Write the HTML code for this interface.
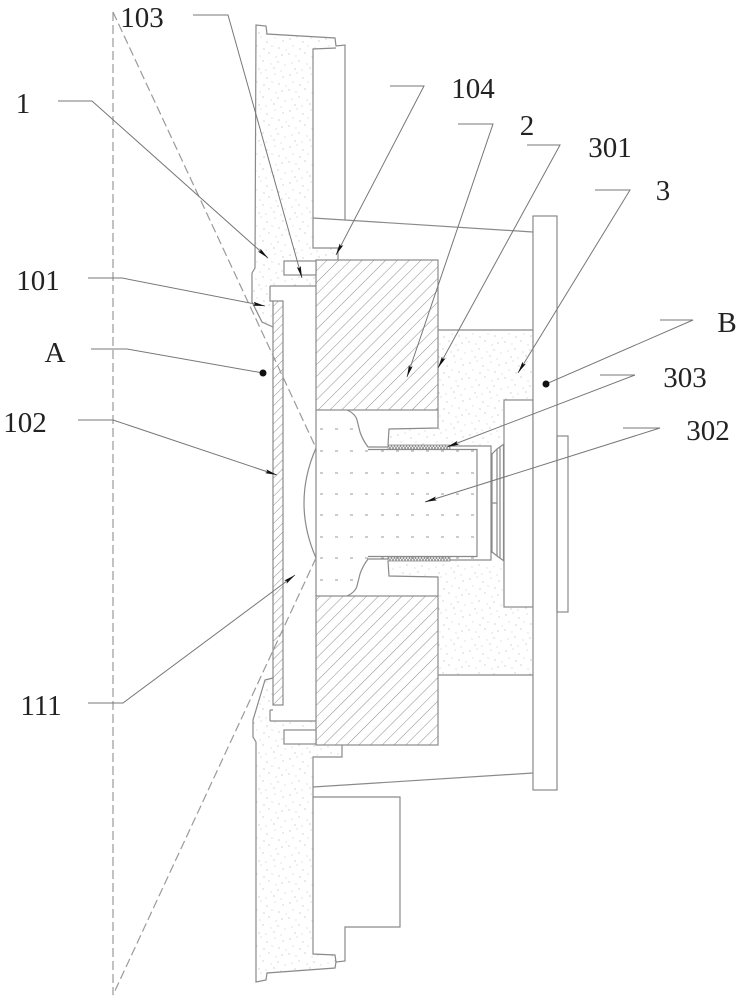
<!DOCTYPE html>
<html><head><meta charset="utf-8"><style>
html,body{margin:0;padding:0;background:#fff;}
svg{display:block;}
text{font-family:"Liberation Serif",serif;font-size:29px;fill:#222;}
</style></head><body>
<svg width="741" height="1000" viewBox="0 0 741 1000" xmlns="http://www.w3.org/2000/svg">
<defs>
<pattern id="stip" width="36" height="36" patternUnits="userSpaceOnUse">
<g fill="#b4b4b4">
<circle cx="2" cy="3" r="0.6"/><circle cx="9" cy="1" r="0.5"/><circle cx="15" cy="6" r="0.6"/><circle cx="23" cy="2" r="0.5"/><circle cx="31" cy="5" r="0.6"/>
<circle cx="5" cy="10" r="0.5"/><circle cx="12" cy="13" r="0.6"/><circle cx="20" cy="10" r="0.5"/><circle cx="27" cy="12" r="0.6"/><circle cx="34" cy="14" r="0.5"/>
<circle cx="1" cy="18" r="0.6"/><circle cx="8" cy="20" r="0.5"/><circle cx="17" cy="17" r="0.6"/><circle cx="24" cy="21" r="0.5"/><circle cx="30" cy="19" r="0.6"/>
<circle cx="4" cy="27" r="0.5"/><circle cx="11" cy="25" r="0.6"/><circle cx="19" cy="28" r="0.5"/><circle cx="26" cy="26" r="0.6"/><circle cx="33" cy="29" r="0.5"/>
<circle cx="7" cy="33" r="0.6"/><circle cx="14" cy="34" r="0.5"/><circle cx="22" cy="32" r="0.6"/><circle cx="29" cy="35" r="0.5"/>
</g>
</pattern>
<pattern id="hatch" width="8.3" height="8.3" patternUnits="userSpaceOnUse" patternTransform="rotate(45)">
<line x1="0" y1="0" x2="0" y2="8.3" stroke="#8c8c8c" stroke-width="1"/>
</pattern>
<pattern id="hatch2" width="6.4" height="6.4" patternUnits="userSpaceOnUse" patternTransform="rotate(45)">
<line x1="0" y1="0" x2="0" y2="6.4" stroke="#8c8c8c" stroke-width="1"/>
</pattern>
<pattern id="thread" width="3" height="4" patternUnits="userSpaceOnUse">
<rect width="3" height="4" fill="#fff"/>
<line x1="0" y1="0" x2="3" y2="4" stroke="#888" stroke-width="0.8"/>
<line x1="3" y1="0" x2="0" y2="4" stroke="#888" stroke-width="0.8"/>
</pattern>
<marker id="arr" viewBox="0 0 12 4" refX="12" refY="2" markerWidth="12" markerHeight="4" markerUnits="userSpaceOnUse" orient="auto">
<path d="M0,0 L12,2 L0,4 L2,2 z" fill="#111"/>
</marker>
</defs>

<!-- stippled housing -->
<polygon fill="url(#stip)" points="256,25 266,26 267,34 335,38 336,48 313,49 313,248 338,248 338,260 316,260 316,286 270,286 270,301 273,301 273,327 262,322 252,302 252,273 255,268"/>
<polygon fill="url(#stip)" points="273,678 265,680 253,720 253,737 256,742 256,982 266,980 267,973 335,968 336,962 335,955 313,954 313,757 342,757 342,745 316,745 316,721 270,721 270,710 273,710"/>
<!-- stippled 301 region -->
<polygon fill="url(#stip)" points="438,330 533,330 533,675 438,675 438,596 438,577 389,576 388,561 491,561 491,445 388,445 389,429 438,428"/>
<rect x="491" y="440" width="13" height="126" fill="#fff"/>
<rect x="504" y="400" width="29" height="207" fill="#fff"/>

<!-- hatched blocks -->
<rect x="316" y="260" width="122" height="150" fill="url(#hatch)" stroke="#8a8a8a" stroke-width="1.2"/>
<rect x="316" y="596" width="122" height="149" fill="url(#hatch)" stroke="#8a8a8a" stroke-width="1.2"/>
<!-- glass -->
<rect x="273" y="301" width="10" height="404" fill="url(#hatch2)" stroke="#8a8a8a" stroke-width="1.2"/>

<!-- bars -->
<rect x="284" y="261" width="32" height="14" fill="#fff" stroke="#8a8a8a" stroke-width="1.2"/>
<rect x="284" y="730" width="32" height="14" fill="#fff" stroke="#8a8a8a" stroke-width="1.2"/>

<!-- thread bands -->
<rect x="388" y="445" width="62" height="4.5" fill="url(#thread)" stroke="#8a8a8a" stroke-width="0.8"/>
<rect x="388" y="556.5" width="62" height="4.5" fill="url(#thread)" stroke="#8a8a8a" stroke-width="0.8"/>

<g fill="none" stroke="#8a8a8a" stroke-width="1.2">
<!-- housing outlines -->
<path d="M345,220 L345,45 L336,46 L335,38 L267,34 L266,26 L256,25 L255,268 L252,273 L252,302 L262,322 L273,327"/>
<path d="M336,48 L313,49 L313,248 L338,248 L338,260"/>
<path d="M270,286 L316,286 M270,286 L270,301 L273,301"/>
<path d="M273,678 L265,680 L253,720 L253,737 L256,742 L256,982 L266,980 L267,973 L335,968 L336,962 L345,961 L345,927 L400,927 L400,797 L313,797"/>
<path d="M342,745 L342,757 L313,757 L313,954 L335,955 L336,962"/>
<path d="M270,721 L316,721 M270,710 L270,721 M270,710 L273,710"/>
<!-- holder left edge -->
<path d="M316,410 L316,596"/>
<!-- slanted lines -->
<path d="M313,218 L533,232"/>
<path d="M313,787 L533,773"/>
<!-- 301 region outline -->
<path d="M438,330 L533,330 M438,675 L533,675"/>
<path d="M438,410 L438,428 L389,429 L388,445"/>
<path d="M438,596 L438,577 L389,576 L388,561"/>
<!-- holder contour -->
<path d="M347,410 C352,412 356,416 357,420 L360,432 C362,438 365,443 368,447 L388,447"/>
<path d="M347,596 C352,594 356,590 357,586 L360,574 C362,568 365,563 368,559 L388,559"/>
<!-- barrel -->
<path d="M450,446 L491,446 L491,560 L450,560"/>
<path d="M368,449.5 L477,449.5 L477,556.5 L368,556.5"/>
<!-- lens front -->
<path d="M316,448 Q292,503 316,558"/>
<!-- filter -->
<path d="M492,453 L492,553 M497,449 L497,556 M500,447 L500,558 M503.5,445 L503.5,560"/>
<path d="M491,455 L497,449 L504,444 M491,551 L497,556 L504,561 M491,503 L497,503"/>
<!-- sensor, pcb, component -->
<rect x="504" y="400" width="29" height="207"/>
<rect x="533" y="216" width="24" height="574" fill="#fff"/>
<rect x="557" y="436" width="11" height="176"/>
</g>

<!-- grid dots in lens -->
<g fill="#999">
<rect x="320" y="428.5" width="3" height="1"/><rect x="335" y="428.5" width="3" height="1"/><rect x="350" y="428.5" width="3" height="1"/>
<rect x="320" y="579.5" width="3" height="1"/><rect x="335" y="579.5" width="3" height="1"/><rect x="350" y="579.5" width="3" height="1"/>
</g>
<g fill="#999" id="row">
<rect x="320" y="450.5" width="3" height="1"/><rect x="335" y="450.5" width="3" height="1"/><rect x="350" y="450.5" width="3" height="1"/><rect x="365" y="450.5" width="3" height="1"/><rect x="381" y="450.5" width="3" height="1"/><rect x="396" y="450.5" width="3" height="1"/><rect x="411" y="450.5" width="3" height="1"/><rect x="426" y="450.5" width="3" height="1"/><rect x="441" y="450.5" width="3" height="1"/><rect x="456" y="450.5" width="3" height="1"/><rect x="471" y="450.5" width="3" height="1"/>
</g>
<use href="#row" y="22"/>
<use href="#row" y="43"/>
<use href="#row" y="64"/>
<use href="#row" y="86"/>
<use href="#row" y="107"/>

<!-- dashed construction lines -->
<g fill="none" stroke="#9a9a9a" stroke-width="1.2" stroke-dasharray="9,4">
<path d="M113,12 L113,995"/>
<path d="M113,12 L316,448"/>
<path d="M316,558 L113,995"/>
</g>

<!-- leader lines -->
<g fill="none" stroke="#777" stroke-width="1">
<polyline points="193,15 228,15 302,278" marker-end="url(#arr)"/>
<polyline points="58,101 92,101 268,258" marker-end="url(#arr)"/>
<polyline points="390,86 424,86 336,255" marker-end="url(#arr)"/>
<polyline points="458,124 493,124 407,377" marker-end="url(#arr)"/>
<polyline points="527,145 560,145 438,368" marker-end="url(#arr)"/>
<polyline points="595,190 630,190 518,373" marker-end="url(#arr)"/>
<polyline points="660,320 693,320 546,384"/>
<polyline points="600,375 635,375 447,447" marker-end="url(#arr)"/>
<polyline points="623,428 660,428 425,502" marker-end="url(#arr)"/>
<polyline points="88,278 122,278 265,306" marker-end="url(#arr)"/>
<polyline points="91,349 127,349 263,373"/>
<polyline points="78,420 113,420 277,475" marker-end="url(#arr)"/>
<polyline points="88,703 123,703 295,575" marker-end="url(#arr)"/>
</g>
<circle cx="546" cy="384" r="3.5" fill="#111"/>
<circle cx="263" cy="373" r="3.5" fill="#111"/>

<!-- labels -->
<g text-anchor="middle">
<text x="142" y="27">103</text>
<text x="23" y="113">1</text>
<text x="473" y="98">104</text>
<text x="527" y="135">2</text>
<text x="610" y="157">301</text>
<text x="663" y="200">3</text>
<text x="727" y="332">B</text>
<text x="685" y="387">303</text>
<text x="708" y="440">302</text>
<text x="38" y="290">101</text>
<text x="55" y="362">A</text>
<text x="25" y="432">102</text>
<text x="41" y="715">111</text>
</g>
</svg>
</body></html>
